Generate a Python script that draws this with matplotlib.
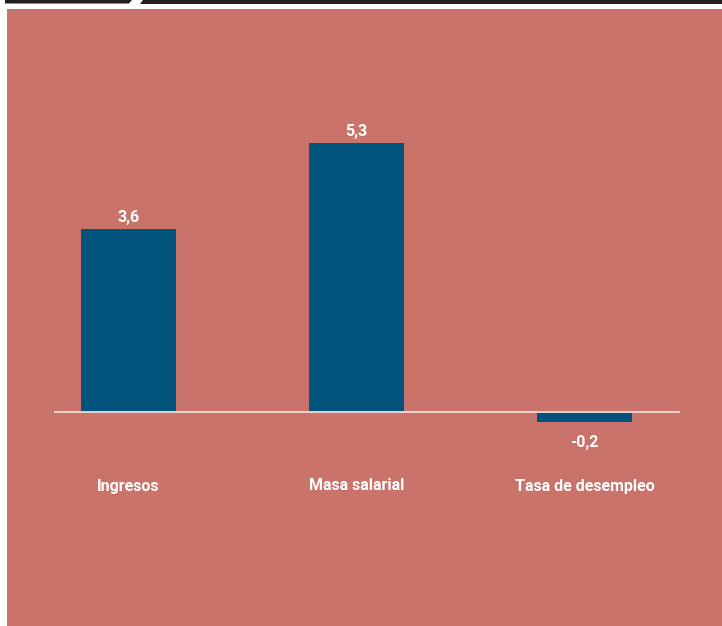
import matplotlib
matplotlib.use("Agg")
import matplotlib.pyplot as plt
from matplotlib.patches import Rectangle, Polygon

categories = ["Ingresos", "Masa salarial", "Tasa de desempleo"]
values = [3.6, 5.3, -0.2]
value_labels = ["3,6", "5,3", "-0,2"]

W, H = 722, 626
BG = "#C9736A"
BAR = "#02547C"
FONT = ["Roboto", "DejaVu Sans"]

fig = plt.figure(figsize=(W / 100, H / 100), dpi=100)
fig.patch.set_facecolor("white")

def fx(px):
    return px / W

def fy(py):
    return 1 - py / H

# red panel
fig.patches.append(Rectangle((fx(7), 0), fx(722) - fx(7), fy(9), transform=fig.transFigure,
                             facecolor=BG, edgecolor="none", zorder=-5))
# black top strip with slanted gap
fig.patches.append(Polygon([(fx(5), fy(0)), (fx(132), fy(0)), (fx(129), fy(3.5)), (fx(5), fy(3.5))],
                           closed=True, transform=fig.transFigure, facecolor="#231F20", edgecolor="none", zorder=-5))
fig.patches.append(Polygon([(fx(143), fy(0)), (fx(722), fy(0)), (fx(722), fy(3.5)), (fx(140), fy(3.5))],
                           closed=True, transform=fig.transFigure, facecolor="#231F20", edgecolor="none", zorder=-5))

# axes spanning x 54..680 px, y 9..626 px
ax = fig.add_axes([fx(54), 0, fx(680) - fx(54), fy(9)])
ax.set_zorder(5)
ax.set_facecolor("none")
ppu_x = 228.0
ax.set_xlim(-(128.5 - 54) / ppu_x, 2 + (680 - 584.5) / ppu_x)
ppu_y = 50.8
ax.set_ylim(-(626 - 412) / ppu_y, (412 - 9) / ppu_y)

x = list(range(len(categories)))
ax.bar(x, values, width=95 / ppu_x, color=BAR, zorder=2)
ax.axhline(0, color="#F3DDD6", lw=1.3, zorder=3)

for xi, v, lab in zip(x, values, value_labels):
    if v >= 0:
        ax.annotate(lab, (xi, v), xytext=(0, 3), textcoords="offset points", ha="center", va="bottom",
                    color="white", fontsize=11.5, fontweight="bold", family=FONT)
    else:
        ax.annotate(lab, (xi, v), xytext=(0, -9), textcoords="offset points", ha="center", va="top",
                    color="white", fontsize=11.5, fontweight="bold", family=FONT)

for xi, c in zip(x, categories):
    ax.text(xi, -(486 - 412) / ppu_y, c, ha="center", va="center", color="white",
            fontsize=11.5, fontweight="bold", family=FONT)

ax.axis("off")
fig.savefig("out.png", dpi=100, facecolor=fig.get_facecolor())
